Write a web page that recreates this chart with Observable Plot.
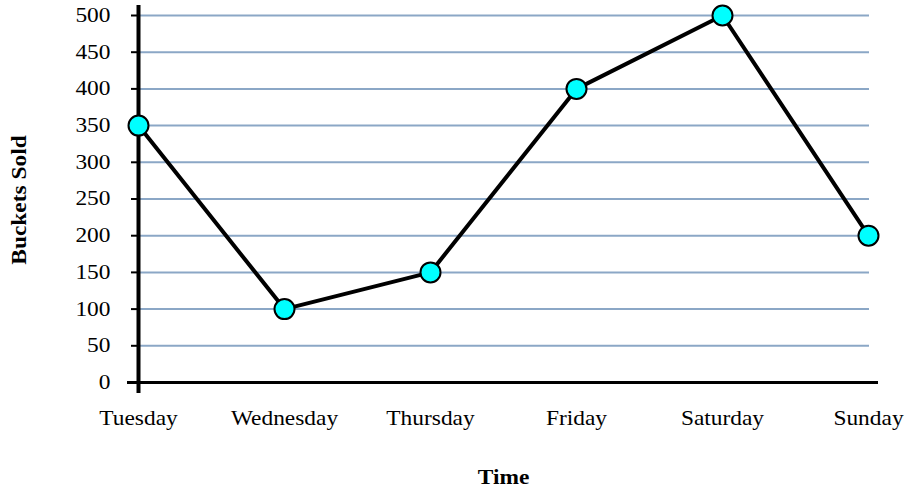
<!DOCTYPE html>
<html><head><meta charset="utf-8">
<script src="https://cdn.jsdelivr.net/npm/d3@7"></script>
<script src="https://cdn.jsdelivr.net/npm/@observablehq/plot@0.6"></script>
<style>
body{margin:0;background:#fff}
#chart svg{font-family:"Liberation Serif","Times New Roman",serif}
</style>
</head><body><div id="chart"></div>
<script>
const days = ["Tuesday","Wednesday","Thursday","Friday","Saturday","Sunday"];
const sold = [350, 100, 150, 400, 500, 200];
const yTicks = [0, 50, 100, 150, 200, 250, 300, 350, 400, 450, 500];
const gridValues = [50, 100, 150, 200, 250, 300, 350, 400, 450, 500];
const xTitle = "Time";
const yTitle = "Buckets Sold";

const data = days.map((d, i) => ({day: d, sold: sold[i]}));

const chart = Plot.plot({
  width: 905, height: 497,
  marginLeft: 137, marginRight: 36, marginTop: 15, marginBottom: 115,
  style: {fontFamily: '"Liberation Serif","Times New Roman",serif', fontSize: "20px", background: "white", color: "black", overflow: "visible"},
  x: {type: "point", domain: days, padding: 0},
  y: {domain: [0, 500]},
  marks: [
    Plot.ruleY(gridValues, {stroke: "#8ba7c6", strokeWidth: 2}),
    Plot.ruleY([0], {stroke: "black", strokeWidth: 3, insetLeft: -10, insetRight: -9}),
    Plot.ruleX([days[0]], {stroke: "black", strokeWidth: 4, insetTop: -10, insetBottom: -11}),
    Plot.axisY({ticks: yTicks, tickSize: 6, tickPadding: 21, strokeWidth: 2, label: null, tickFormat: d => String(d)}),
    Plot.axisX({tickSize: 0, tickPadding: 28, label: null}),
    Plot.text([xTitle], {text: d => d, frameAnchor: "bottom", dy: 95, fontWeight: "bold", lineAnchor: "middle", textAnchor: "middle"}),
    Plot.text([yTitle], {text: d => d, frameAnchor: "left", dx: -118, dy: 1, rotate: -90, fontWeight: "bold", lineAnchor: "middle", textAnchor: "middle"}),
    Plot.line(data, {x: "day", y: "sold", stroke: "black", strokeWidth: 4}),
    Plot.dot(data, {x: "day", y: "sold", r: 10, fill: "#00ffff", stroke: "black", strokeWidth: 2})
  ]
});
document.getElementById("chart").appendChild(chart);
// horizontally stretch text glyphs about their anchor, as in the reference
chart.querySelectorAll("text").forEach(t => {
  const tr = t.getAttribute("transform") || "";
  t.setAttribute("transform", tr + " scale(1.17,1)");
});
</script>
</body></html>
